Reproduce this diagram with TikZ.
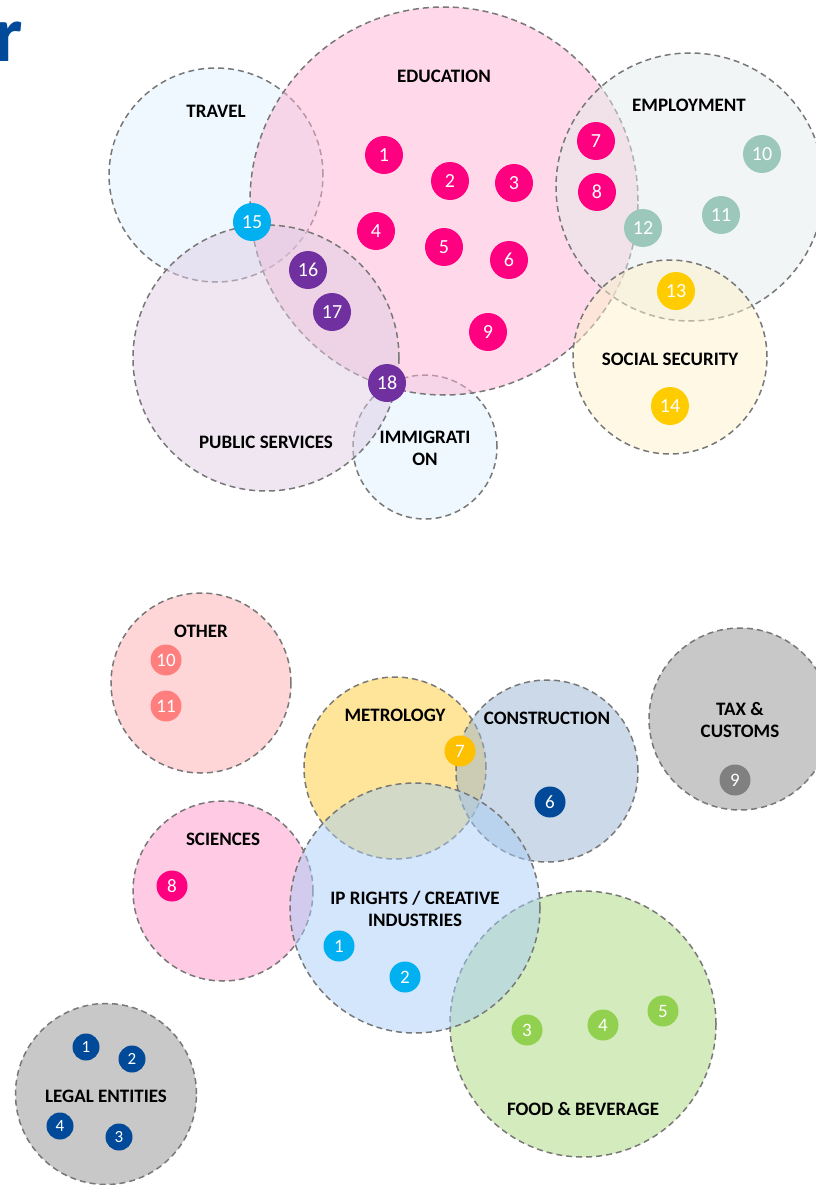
\documentclass[tikz,border=0pt]{standalone}
\usepackage{fontspec}
\setmainfont{Carlito}
\usepackage{tikz}
\usetikzlibrary{positioning}
\definecolor{edufill}{RGB}{255,179,213}
\definecolor{travelfill}{RGB}{221,241,253}
\definecolor{employfill}{RGB}{229,235,235}
\definecolor{socialfill}{RGB}{253,241,203}
\definecolor{publicfill}{RGB}{223,205,229}
\definecolor{otherfill}{RGB}{255,173,177}
\definecolor{metrofill}{RGB}{255,203,51}
\definecolor{constfill}{RGB}{153,179,209}
\definecolor{taxfill}{RGB}{145,145,145}
\definecolor{scifill}{RGB}{255,149,199}
\definecolor{ipfill}{RGB}{167,205,247}
\definecolor{foodfill}{RGB}{169,215,123}
\definecolor{edupink}{RGB}{255,0,128}
\definecolor{teal}{RGB}{155,200,187}
\definecolor{gold}{RGB}{255,204,0}
\definecolor{amber}{RGB}{255,192,0}
\definecolor{sky}{RGB}{0,176,240}
\definecolor{plum}{RGB}{112,48,160}
\definecolor{salmon}{RGB}{255,127,127}
\definecolor{navy}{RGB}{0,74,153}
\definecolor{slate}{RGB}{128,128,128}
\definecolor{leaf}{RGB}{146,208,80}
\definecolor{rim}{RGB}{120,120,120}
\tikzstyle{zone} = [draw=rim, circle, dashed, dash pattern=on 6pt off 4pt, line width=1.5pt, fill opacity=0.5, inner sep=0pt]
\tikzstyle{tag} = [font=\fontsize{19}{22}\selectfont\bfseries, align=center, text=black]
\tikzstyle{badge} = [circle, inner sep=0pt, minimum size=38pt, text=white, font=\fontsize{20}{20}\selectfont]
\tikzstyle{smallbadge} = [circle, inner sep=0pt, minimum size=31pt, text=white, font=\fontsize{19}{19}\selectfont]
\tikzstyle{tinybadge} = [circle, inner sep=0pt, minimum size=27pt, text=white, font=\fontsize{17}{17}\selectfont]

\begin{document}
\begin{tikzpicture}[x=1pt, y=-1pt]
    \useasboundingbox (0,0) rectangle (815,1185);
    \node[anchor=base west, inner sep=0pt, text=navy, font=\fontsize{80}{80}\selectfont\bfseries, name=title] at (-6,62) {r};

    \node[zone, fill=travelfill, minimum size=214pt, name=travel] at (216,175) {};
    \node[zone, fill=travelfill, minimum size=144pt, name=immigration] at (425,447) {};
    \node[zone, fill=edufill, minimum size=388pt, name=education] at (444,201) {};
    \node[zone, fill=publicfill, minimum size=266pt, name=public] at (266,358) {};
    \node[zone, fill=employfill, minimum size=268pt, name=employment] at (690,187) {};
    \node[zone, fill=socialfill, minimum size=194pt, name=social] at (670,357) {};

    \node[tag, name=travellabel] at (216,111) {TRAVEL};
    \node[tag, name=edulabel] at (444,76) {EDUCATION};
    \node[tag, name=employlabel] at (689,105) {EMPLOYMENT};
    \node[tag, name=sociallabel] at (670,359) {SOCIAL SECURITY};
    \node[tag, name=publiclabel] at (266,442) {PUBLIC SERVICES};
    \node[tag, name=immilabel] at (425,448) {IMMIGRATI\\ON};

    \foreach \n/\x/\y in {1/384/155, 2/450/181, 3/514/183, 4/376/231, 5/444/247,
                          6/509/260, 7/596/141, 8/597/192, 9/488/332}
        \node[badge, fill=edupink, name=edu\n] at (\x,\y) {\n};
    \foreach \n/\x/\y in {10/762/154, 11/721/215, 12/643/228}
        \node[badge, fill=teal, name=emp\n] at (\x,\y) {\n};
    \foreach \n/\x/\y in {13/676/291, 14/670/406}
        \node[badge, fill=gold, name=soc\n] at (\x,\y) {\n};
    \node[badge, fill=sky, name=trav15] at (252,222) {15};
    \foreach \n/\x/\y in {16/308/270, 17/332/312, 18/387/383}
        \node[badge, fill=plum, name=pub\n] at (\x,\y) {\n};

    \node[zone, fill=otherfill, minimum size=180pt, name=other] at (201,683) {};
    \node[zone, fill=scifill, minimum size=180pt, name=sciences] at (223,891) {};
    \node[zone, fill=metrofill, minimum size=182pt, name=metrology] at (395,768) {};
    \node[zone, fill=constfill, minimum size=182pt, name=construction] at (547,771) {};
    \node[zone, fill=foodfill, minimum size=266pt, name=food] at (583,1024) {};
    \node[zone, fill=ipfill, minimum size=250pt, name=iprights] at (415,908) {};
    \node[zone, fill=taxfill, minimum size=182pt, name=tax] at (740,719) {};
    \node[zone, fill=taxfill, minimum size=181pt, name=legal] at (106,1094) {};

    \node[tag, name=otherlabel] at (201,631) {OTHER};
    \node[tag, name=metrolabel] at (395,715) {METROLOGY};
    \node[tag, name=constlabel] at (547,718) {CONSTRUCTION};
    \node[tag, name=taxlabel] at (740,720) {TAX \&\\CUSTOMS};
    \node[tag, name=scilabel] at (223,839) {SCIENCES};
    \node[tag, name=iplabel] at (415,909) {IP RIGHTS / CREATIVE\\INDUSTRIES};
    \node[tag, name=legallabel] at (106,1096) {LEGAL ENTITIES};
    \node[tag, name=foodlabel] at (583,1109) {FOOD \& BEVERAGE};

    \foreach \n/\y in {10/660, 11/706}
        \node[smallbadge, fill=salmon, name=oth\n] at (166,\y) {\n};
    \node[smallbadge, fill=amber, name=met7] at (460,751) {7};
    \node[smallbadge, fill=navy, name=con6] at (550,802) {6};
    \node[smallbadge, fill=slate, name=tax9] at (735,780) {9};
    \node[smallbadge, fill=edupink, name=sci8] at (172,886) {8};
    \foreach \n/\x/\y in {1/339/946, 2/405/977}
        \node[smallbadge, fill=sky, name=ip\n] at (\x,\y) {\n};
    \foreach \n/\x/\y in {3/527/1030, 4/603/1025, 5/663/1011}
        \node[smallbadge, fill=leaf, name=food\n] at (\x,\y) {\n};
    \foreach \n/\x/\y in {1/86/1047, 2/132/1059, 3/119/1137, 4/60/1126}
        \node[tinybadge, fill=navy, name=leg\n] at (\x,\y) {\n};
\end{tikzpicture}
\end{document}
